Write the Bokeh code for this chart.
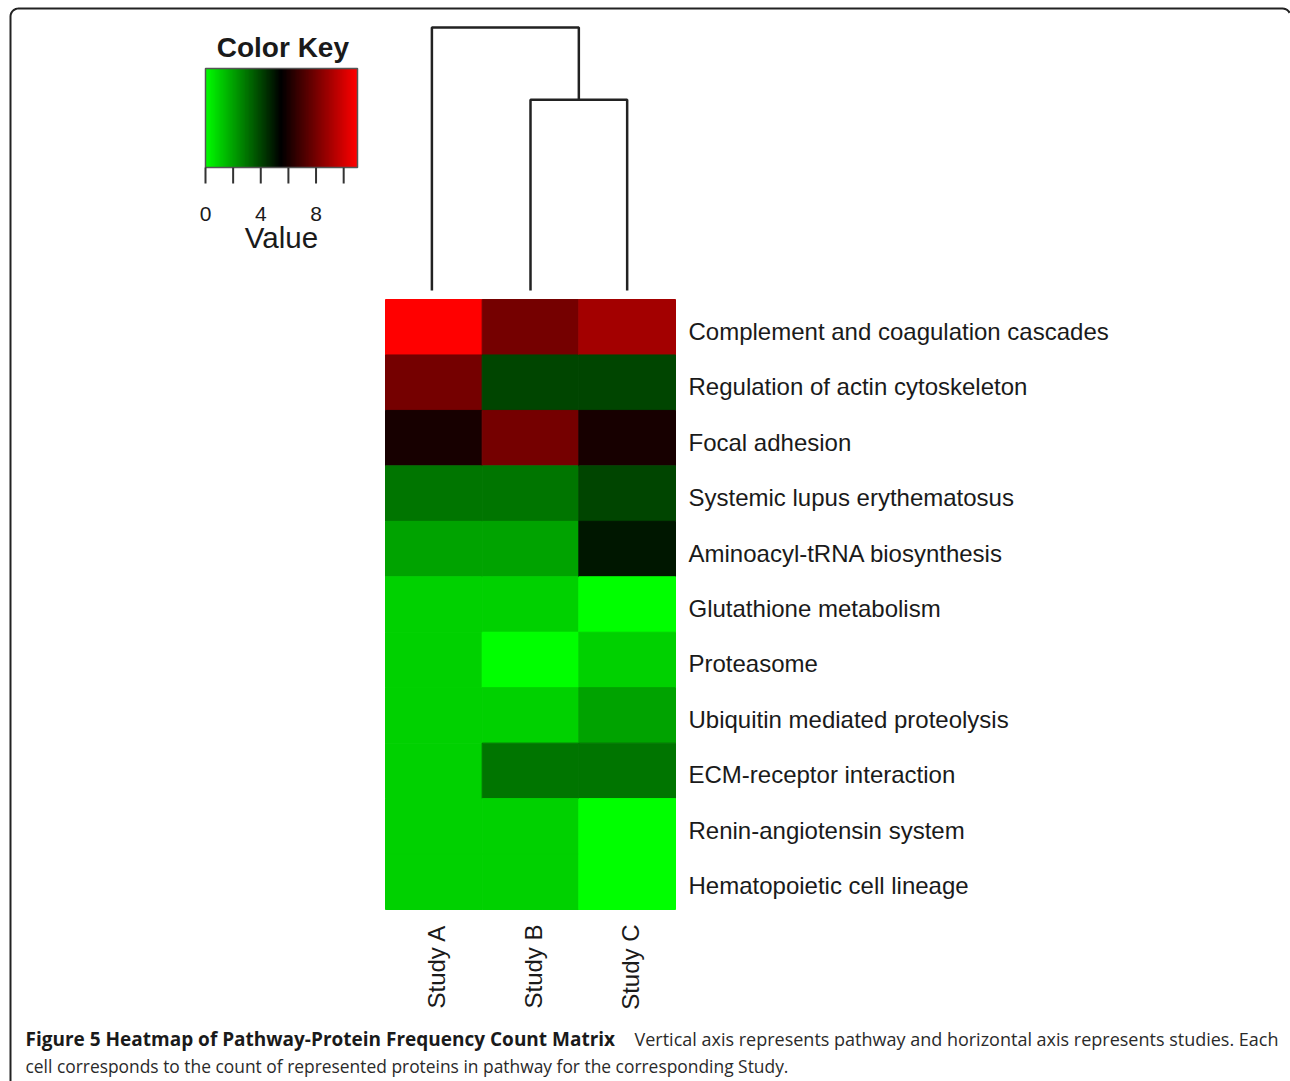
import numpy as np
from bokeh.plotting import figure
from bokeh.models import Range1d, ColumnDataSource, LinearColorMapper
from bokeh.transform import transform
from bokeh.core.properties import value
from bokeh.embed import file_html
from bokeh.resources import INLINE

# ---------------- data ----------------
pathways = [
    "Complement and coagulation cascades",
    "Regulation of actin cytoskeleton",
    "Focal adhesion",
    "Systemic lupus erythematosus",
    "Aminoacyl-tRNA biosynthesis",
    "Glutathione metabolism",
    "Proteasome",
    "Ubiquitin mediated proteolysis",
    "ECM-receptor interaction",
    "Renin-angiotensin system",
    "Hematopoietic cell lineage",
]
studies = ["Study A", "Study B", "Study C"]
study_a = [11, 8, 6, 3, 2, 1, 1, 1, 1, 1, 1]
study_b = [8, 4, 8, 3, 2, 1, 0, 1, 3, 1, 1]
study_c = [9, 4, 6, 4, 5, 0, 1, 2, 3, 0, 0]
key_min, key_max = 0, 11
key_ticks = [0, 2, 4, 6, 8, 10]
key_tick_labels = ["0", "", "4", "", "8", ""]

caption_bold = "Figure 5 Heatmap of Pathway-Protein Frequency Count Matrix"
caption_rest1 = "Vertical axis represents pathway and horizontal axis represents studies. Each"
caption_line2 = "cell corresponds to the count of represented proteins in pathway for the corresponding Study."

# ---------------- layout constants (pixels) ----------------
W, H = 1290, 1081
HM_LEFT, HM_TOP, HM_W, HM_H = 385, 299, 290, 610   # heatmap frame in figure px
n_rows, n_cols = len(pathways), len(studies)
ux = HM_W / n_cols
uy = HM_H / n_rows
x0 = -HM_LEFT / ux
y0 = -(H - (HM_TOP + HM_H)) / uy

KEY_LEFT, KEY_TOP, KEY_W, KEY_H = 205, 68, 152, 99
kux = KEY_W / (key_max - key_min)
kx0 = key_min - KEY_LEFT / kux
ky0 = -(H - (KEY_TOP + KEY_H)) / KEY_H

TXT = "#1a1a1a"

p = figure(width=W, height=H,
           x_range=Range1d(x0, x0 + W / ux), y_range=Range1d(y0, y0 + H / uy),
           output_backend="svg", toolbar_location=None, min_border=0,
           x_axis_location=None, y_axis_location=None)
p.grid.visible = False
p.outline_line_color = None
p.background_fill_color = "white"
p.extra_x_ranges = {"key": Range1d(kx0, kx0 + W / kux), "px": Range1d(0, W)}
p.extra_y_ranges = {"key": Range1d(ky0, ky0 + H / KEY_H), "px": Range1d(H, 0)}

# colour map green -> black -> red
pal = []
for i in range(256):
    t = i / 255
    if t < 0.5:
        pal.append("#%02x%02x%02x" % (0, int(round(255 * (1 - 2 * t))), 0))
    else:
        pal.append("#%02x%02x%02x" % (int(round(255 * (2 * t - 1))), 0, 0))
mapper = LinearColorMapper(palette=pal, low=key_min, high=key_max)

# ---------------- heatmap ----------------
series = [study_a, study_b, study_c]
xs, ys, vals = [], [], []
for j, s in enumerate(series):
    for i, v in enumerate(s):
        xs.append(j + 0.5)
        ys.append(n_rows - 1 - i + 0.5)
        vals.append(v)
src = ColumnDataSource(dict(x=xs, y=ys, v=vals))
p.rect("x", "y", width=1, height=1, source=src,
       fill_color=transform("v", mapper), line_color=transform("v", mapper), line_width=1)

# row labels
p.text(x=[n_cols] * n_rows, y=[n_rows - 1 - i + 0.5 for i in range(n_rows)], text=pathways,
       x_offset=13, y_offset=4, text_align="left", text_baseline="middle",
       text_font=value("Liberation Sans"), text_font_size="24px", text_color=TXT)

# column labels
p.text(x=[j + 0.5 for j in range(n_cols)], y=[0] * n_cols, text=studies,
       x_offset=3, y_offset=15, angle=np.pi / 2, text_align="right", text_baseline="middle",
       text_font=value("Liberation Sans"), text_font_size="24px", text_color=TXT)

# ---------------- dendrogram (complete linkage, euclidean) ----------------
M = np.array(series, dtype=float)
d = np.sqrt(((M[:, None, :] - M[None, :, :]) ** 2).sum(-1))
h1 = d[1, 2]
h2 = max(d[0, 1], d[0, 2])
base = n_rows + 9 / uy
scale = (n_rows + 272 / uy - base) / h2
yb, y1, y2 = base, base + h1 * scale, base + h2 * scale
xa, xb, xc = 0.48, 1.5, 2.5
xm = (xb + xc) / 2
p.multi_line(xs=[[xa, xa, xm, xm], [xb, xb, xc, xc]],
             ys=[[yb, y2, y2, y1], [yb, y1, y1, yb]],
             line_color="#222222", line_width=2.5)

# ---------------- colour key ----------------
steps = np.linspace(key_min, key_max, 221)
kl, kr = steps[:-1], steps[1:]
ksrc = ColumnDataSource(dict(l=kl, r=kr, v=(kl + kr) / 2))
p.quad(left="l", right="r", bottom=0, top=1, source=ksrc,
       fill_color=transform("v", mapper), line_color=transform("v", mapper), line_width=1,
       x_range_name="key", y_range_name="key")
p.quad(left=[key_min], right=[key_max], bottom=[0], top=[1], fill_color=None,
       line_color="#555555", line_width=1.5, x_range_name="key", y_range_name="key")
p.segment(x0=key_ticks, y0=[0] * len(key_ticks), x1=key_ticks, y1=[-16 / KEY_H] * len(key_ticks),
          line_color="#333333", line_width=2, x_range_name="key", y_range_name="key")
p.text(x=key_ticks, y=[-46 / KEY_H] * len(key_ticks), text=key_tick_labels,
       text_align="center", text_baseline="middle", text_font=value("Liberation Sans"),
       text_font_size="21px", text_color=TXT, x_range_name="key", y_range_name="key")
p.text(x=[(key_min + key_max) / 2], y=[-70 / KEY_H], text=["Value"],
       text_align="center", text_baseline="middle", text_font=value("Liberation Sans"),
       text_font_size="29.5px", text_color=TXT, x_range_name="key", y_range_name="key")
p.text(x=[(key_min + key_max) / 2 + 0.1], y=[120 / KEY_H], text=["Color Key"],
       text_align="center", text_baseline="middle", text_font=value("Liberation Sans"),
       text_font_style="bold", text_font_size="28px", text_color=TXT,
       x_range_name="key", y_range_name="key")

# ---------------- caption & frame ----------------
p.text(x=[25], y=[1038], text=[caption_bold], text_align="left", text_baseline="middle",
       text_font=value("Open Sans"), text_font_style="bold", text_font_size="19px",
       text_color=TXT, x_range_name="px", y_range_name="px")
p.text(x=[1278], y=[1038], text=[caption_rest1], text_align="right", text_baseline="middle",
       text_font=value("Open Sans"), text_font_size="18px",
       text_color="#2a2a2a", x_range_name="px", y_range_name="px")
p.text(x=[25], y=[1065], text=[caption_line2], text_align="left", text_baseline="middle",
       text_font=value("Open Sans"), text_font_size="17.4px",
       text_color="#2a2a2a", x_range_name="px", y_range_name="px")

ang1 = np.linspace(np.pi, 1.5 * np.pi, 10)
ang2 = np.linspace(1.5 * np.pi, 1.85 * np.pi, 6)
bx = [10] + list(18 + 8 * np.cos(ang1)) + list(1282 + 8 * np.cos(ang2))
by = [H] + list(16 + 8 * np.sin(ang1)) + list(16 + 8 * np.sin(ang2))
p.line(bx, by, line_color="#222222", line_width=2, x_range_name="px", y_range_name="px")

open("out.html", "w").write(file_html(p, INLINE))
